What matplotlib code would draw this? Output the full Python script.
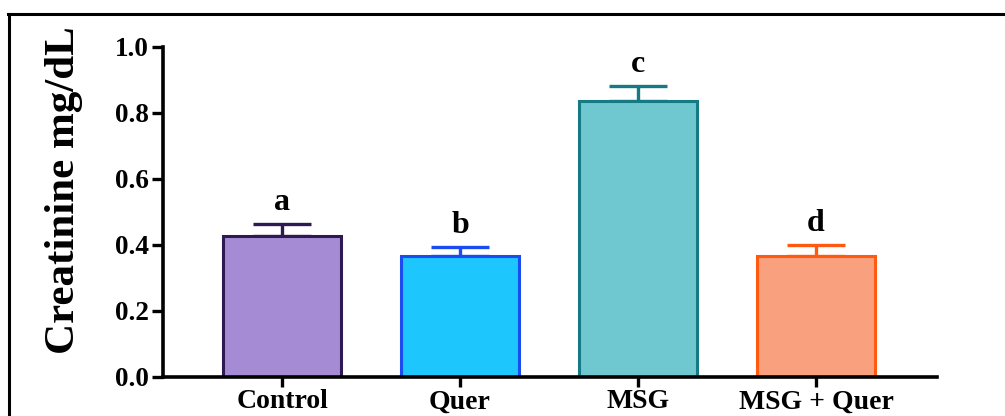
import matplotlib
matplotlib.use("Agg")
import matplotlib.pyplot as plt
from matplotlib.lines import Line2D

categories = ["Control", "Quer", "MSG", "MSG + Quer"]
means = [0.427, 0.367, 0.836, 0.367]
errors = [0.037, 0.027, 0.046, 0.033]
letters = ["a", "b", "c", "d"]
fill_colors = ["#A48BD3", "#1EC6FE", "#6FC8D0", "#F9A07E"]
edge_colors = ["#2E1A52", "#1A4CF0", "#167A84", "#FF5A10"]
yticks = [0.0, 0.2, 0.4, 0.6, 0.8, 1.0]

plt.rcParams["font.family"] = ["Liberation Serif", "DejaVu Serif"]
plt.rcParams["font.weight"] = "bold"

fig = plt.figure(figsize=(10.05, 4.16), dpi=100)
ax = fig.add_axes([163 / 1005, 1 - 377 / 416, (937 - 163) / 1005, (377 - 47) / 416])

x = list(range(len(categories)))
for i in x:
    ax.bar(i, means[i], width=0.66, color=fill_colors[i], edgecolor=edge_colors[i],
           linewidth=2.2, zorder=2)
    ax.errorbar(i, means[i], yerr=[[0], [errors[i]]], fmt="none", ecolor=edge_colors[i],
                elinewidth=2.4, capsize=21, capthick=2.4, zorder=1)
    ax.annotate(letters[i], (i, means[i] + errors[i]), xytext=(0, 5),
                textcoords="offset points", ha="center", va="bottom",
                fontsize=23, fontweight="bold")

ax.set_xlim(-0.669, 3.680)
ax.set_ylim(0, 1.0)
ax.set_yticks(yticks)
ax.set_yticklabels([f"{v:.1f}" for v in yticks], fontsize=19.5, fontweight="bold")
ax.set_xticks(x)
ax.set_xticklabels(categories, fontsize=20, fontweight="bold")

for s in ["top", "right"]:
    ax.spines[s].set_visible(False)
for s in ["left", "bottom"]:
    ax.spines[s].set_linewidth(2.6)
    ax.spines[s].set_zorder(3)
ax.tick_params(axis="y", length=8, width=2.4, pad=2)
ax.tick_params(axis="x", length=7, width=2.4, pad=2)

ax.set_ylabel("Creatinine mg/dL", fontsize=31, fontweight="bold")
ax.yaxis.set_label_coords(-0.104, 0.565)

# figure frame (left and top edges)
fig.add_artist(Line2D([9 / 1005, 9 / 1005], [0, 1 - 14 / 416], color="black",
                      linewidth=2.2, transform=fig.transFigure))
fig.add_artist(Line2D([8 / 1005, 1.0], [1 - 14 / 416, 1 - 14 / 416], color="black",
                      linewidth=2.2, transform=fig.transFigure))

fig.savefig("out.png", dpi=100)
